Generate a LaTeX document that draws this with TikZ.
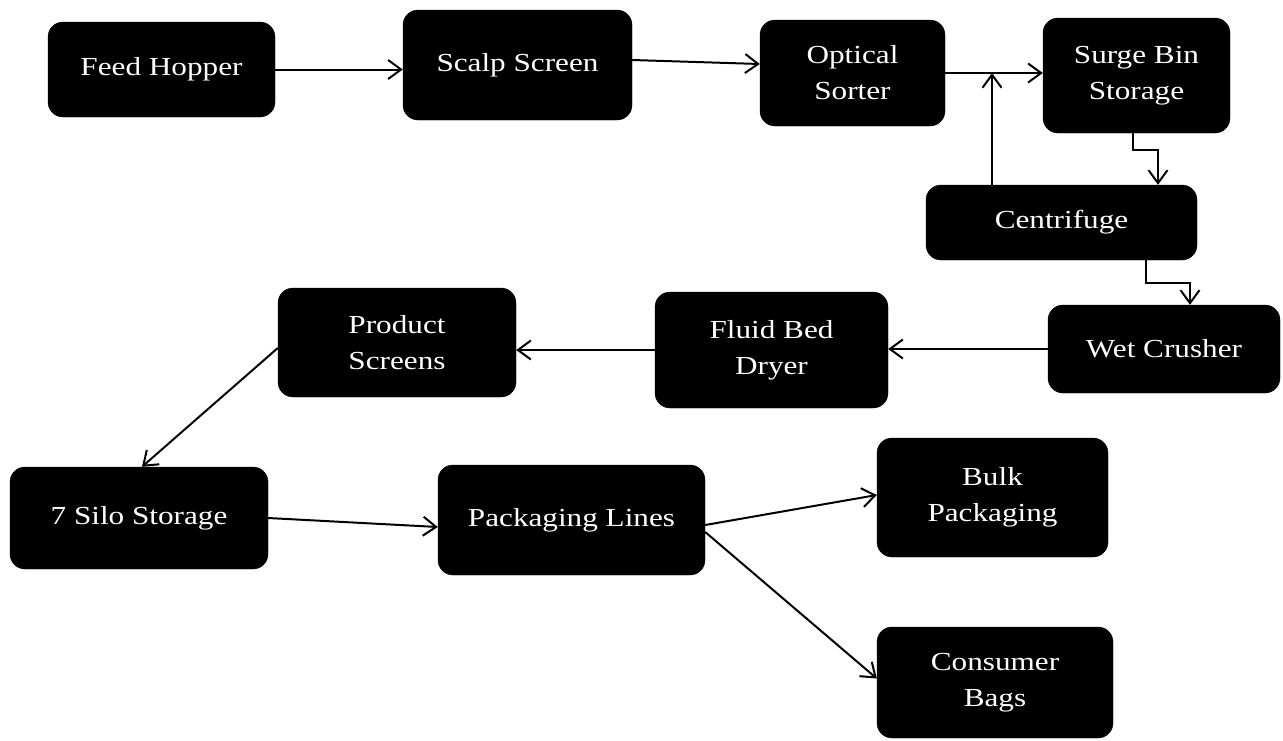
\documentclass[tikz,border=0pt]{standalone}
\usepackage{fontspec}
\usetikzlibrary{arrows.meta}
\newfontfamily\boxfont[FakeStretch=1.2]{Liberation Serif}
\tikzset{
  stage/.style={draw=black, fill=black, rounded corners=15pt, inner sep=0pt,
    text=white, align=center, font={\boxfont\fontsize{26}{36}\selectfont}},
  flow/.style={draw=black, line width=2pt,
    -{Straight Barb[length=13pt,width=19pt]}},
}
\begin{document}
\begin{tikzpicture}[x=1pt, y=-1pt]
\useasboundingbox[fill=white] (0,0) rectangle (1283,740);

% process stages
\node[stage, minimum width=227pt, minimum height=95pt]  (feed)       at (161.5,69.5) {Feed Hopper};
\node[stage, minimum width=229pt, minimum height=110pt] (scalp)      at (517.5,65)   {Scalp Screen};
\node[stage, minimum width=185pt, minimum height=106pt] (optical)    at (852.5,73)   {Optical\\Sorter};
\node[stage, minimum width=187pt, minimum height=115pt] (surge)      at (1136.5,75.5){Surge Bin\\Storage};
\node[stage, minimum width=271pt, minimum height=75pt]  (centrifuge) at (1061.5,222.5){Centrifuge};
\node[stage, minimum width=232pt, minimum height=88pt]  (wet)        at (1164,349)   {Wet Crusher};
\node[stage, minimum width=233pt, minimum height=116pt] (fluid)      at (771.5,350)  {Fluid Bed\\Dryer};
\node[stage, minimum width=238pt, minimum height=109pt] (product)    at (397,342.5)  {Product\\Screens};
\node[stage, minimum width=258pt, minimum height=102pt] (silo)       at (139,518)    {7 Silo Storage};
\node[stage, minimum width=267pt, minimum height=110pt] (pack)       at (571.5,520)  {Packaging Lines};
\node[stage, minimum width=231pt, minimum height=119pt] (bulk)       at (992.5,497.5){Bulk\\Packaging};
\node[stage, minimum width=236pt, minimum height=111pt] (consumer)   at (995,682.5)  {Consumer\\Bags};

% recycle stream joins the sorter line here
\coordinate (join) at (992,73);

% connectors
\draw[flow] (feed.east) -- (feed.east -| scalp.west);
\draw[flow] ([yshift=5pt]scalp.east) -- ([yshift=9pt]optical.west);
\draw[flow] (optical.east) -- (optical.east -| surge.west);
\draw[flow] (centrifuge.north -| join) -- (join);
\draw[flow] ([xshift=-3.5pt]surge.south) -- ++(0,17) -| ([xshift=96.5pt]centrifuge.north);
\draw[flow] ([xshift=84.5pt]centrifuge.south) -- ++(0,23) -| ([xshift=26pt]wet.north);
\draw[flow] (wet.west) -- (wet.west -| fluid.east);
\draw[flow] (fluid.west) -- (fluid.west -| product.east);
\draw[flow] ([yshift=-5.5pt]product.west) -- ([xshift=3pt]silo.north);
\draw[flow] (silo.east) -- ([yshift=-7pt]pack.west);
\draw[flow] ([yshift=-5pt]pack.east) -- ([yshift=2.5pt]bulk.west);
\draw[flow] ([yshift=-12pt]pack.east) -- ([yshift=4pt]consumer.west);
\end{tikzpicture}
\end{document}
